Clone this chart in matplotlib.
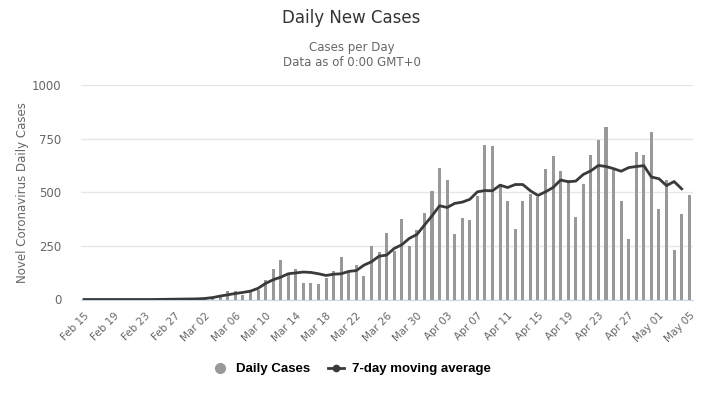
import matplotlib
matplotlib.use('Agg')
import matplotlib.pyplot as plt
from matplotlib.lines import Line2D

# Daily new cases, Feb 15 .. May 05 (one value per day)
daily_cases = [
    0, 0, 0, 0, 0, 0, 0, 0, 0, 0, 0,
    2, 3, 2, 3, 3, 4, 5, 12, 39, 39,
    23, 36, 44, 91, 141, 184, 115, 141, 78, 78,
    73, 101, 132, 197, 126, 160, 109, 249, 221, 309,
    225, 375, 249, 323, 403, 505, 613, 557, 305, 379,
    370, 482, 720, 715, 538, 459, 328, 459, 491, 480,
    608, 669, 599, 557, 386, 538, 673, 743, 804, 603,
    459, 281, 687, 673, 781, 421, 557, 230, 398, 487,
]

# 7-day moving average, Feb 15 .. May 04
moving_avg = [
    0, 0, 0, 0, 0, 0, 0, 0, 0, 0,
    0.5, 1, 1.5, 2, 2.5, 3, 5, 9, 16, 22,
    28, 33, 39, 52, 75, 92, 104, 120, 124, 128,
    126, 120, 112, 118, 120, 131, 135, 160, 176, 202,
    207, 238, 255, 285, 303, 347, 390, 437, 429, 448,
    454, 467, 502, 508, 507, 533, 522, 536, 536, 507,
    485, 502, 522, 557, 549, 552, 583, 600, 625, 620,
    610, 598, 615, 620, 624, 571, 563, 531, 550, 516,
]

tick_labels = ['Feb 15', 'Feb 19', 'Feb 23', 'Feb 27', 'Mar 02', 'Mar 06',
               'Mar 10', 'Mar 14', 'Mar 18', 'Mar 22', 'Mar 26', 'Mar 30',
               'Apr 03', 'Apr 07', 'Apr 11', 'Apr 15', 'Apr 19', 'Apr 23',
               'Apr 27', 'May 01', 'May 05']

y_ticks = [0, 250, 500, 750, 1000]

BAR_COLOR = '#999999'
LINE_COLOR = '#3a3a3a'
TEXT_COLOR = '#666666'
LEGEND_FONT = ['Liberation Sans', 'DejaVu Sans']


def plot_daily_cases():
    fig = plt.figure(figsize=(7.03, 4.0), dpi=100)
    ax = fig.add_axes([81 / 703, 1 - 299.5 / 400, 612 / 703, 214.5 / 400])

    days = list(range(len(daily_cases)))
    ax.bar(days, daily_cases, width=0.4, color=BAR_COLOR, zorder=2)
    ax.plot(days[:len(moving_avg)], moving_avg, color=LINE_COLOR,
            linewidth=2, zorder=3)

    ax.set_xlim(-0.4, 80.5)
    ax.set_ylim(0, 1000)

    # y axis: light grid, no spine
    ax.set_yticks(y_ticks)
    ax.set_yticklabels([str(v) for v in y_ticks], color=TEXT_COLOR, fontsize=8.5)
    ax.grid(axis='y', color='#e6e6e6', linewidth=1, zorder=0)
    ax.tick_params(axis='y', length=0, pad=14)
    ax.set_ylabel('Novel Coronavirus Daily Cases', color=TEXT_COLOR,
                  fontsize=8.5, labelpad=2)

    # x axis: a label every 4 days, rotated
    ax.set_xticks(days[::4])
    ax.tick_params(axis='x', length=0, pad=8)
    ax.set_xticklabels(tick_labels, color=TEXT_COLOR, fontsize=7.5)
    for label in ax.get_xticklabels():
        label.set_rotation(45)
        label.set_horizontalalignment('right')
        label.set_rotation_mode('anchor')

    for side in ['top', 'right', 'left']:
        ax.spines[side].set_visible(False)
    ax.spines['bottom'].set_color('#ccd6eb')

    # titles
    fig.text(0.5, 1 - 18 / 400, 'Daily New Cases', ha='center', va='center',
             fontsize=12, color='#333333')
    fig.text(0.5, 1 - 47 / 400, 'Cases per Day', ha='center', va='center',
             fontsize=8.5, color=TEXT_COLOR)
    fig.text(0.5, 1 - 62 / 400, 'Data as of 0:00 GMT+0', ha='center',
             va='center', fontsize=8.5, color=TEXT_COLOR)

    # legend
    handles = [
        Line2D([], [], linestyle='none', marker='o', markersize=7,
               color=BAR_COLOR),
        Line2D([], [], color=LINE_COLOR, linewidth=2, marker='o',
               markersize=4.5),
    ]
    fig.legend(handles, ['Daily Cases', '7-day moving average'],
               loc='center', bbox_to_anchor=(0.5, 1 - 369 / 400), ncol=2,
               frameon=False, handlelength=1.2, handletextpad=0.6,
               columnspacing=1.4,
               prop={'family': LEGEND_FONT, 'weight': 'bold', 'size': 9.5})

    plt.savefig('out.png', dpi=100)


if __name__ == "__main__":
    plot_daily_cases()
